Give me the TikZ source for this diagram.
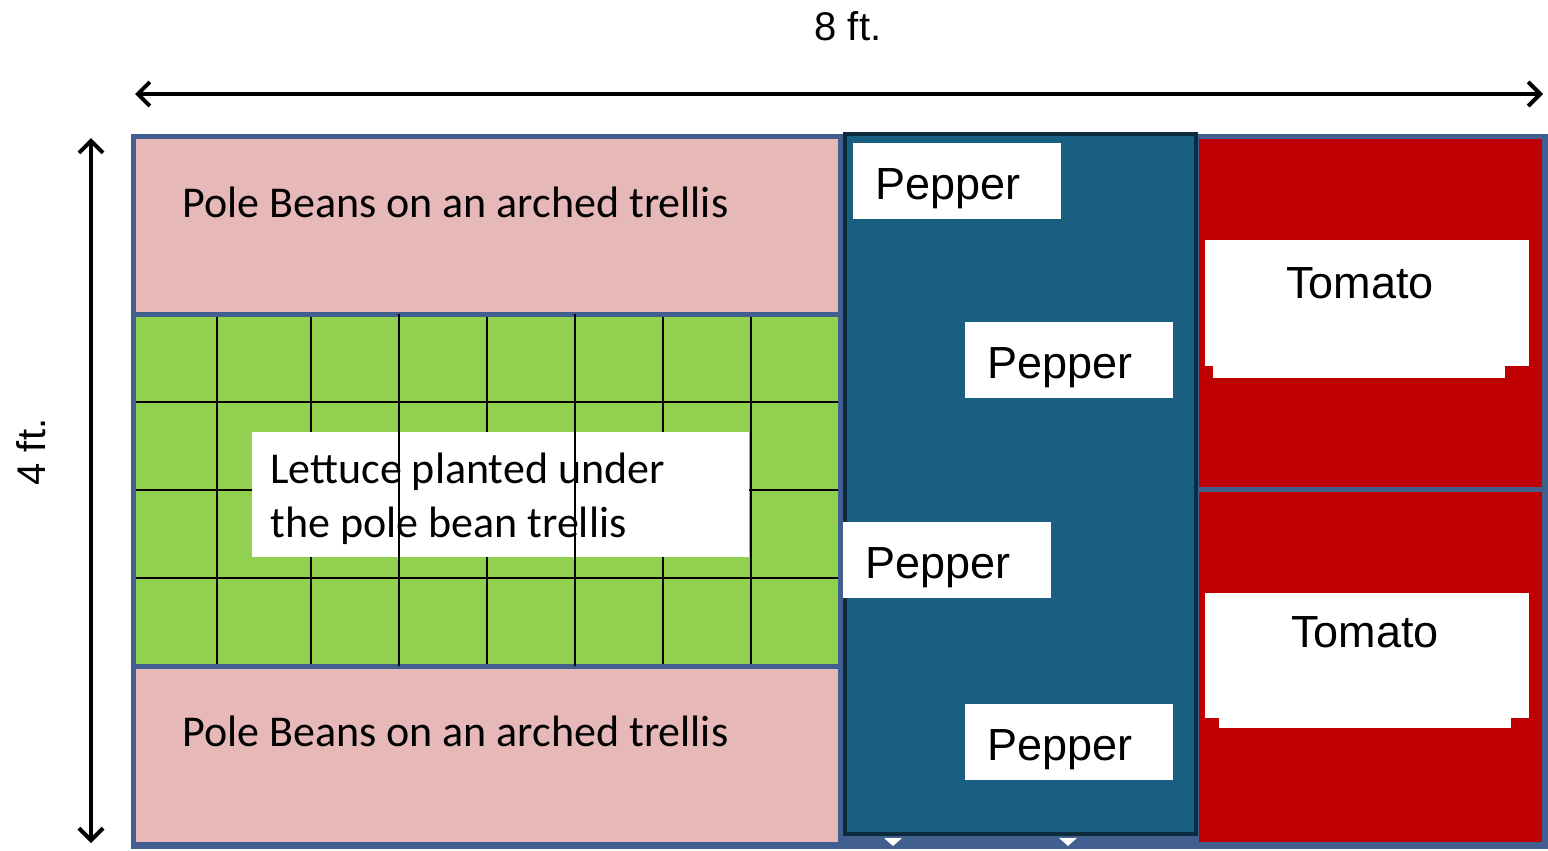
\documentclass[tikz,border=0pt]{standalone}
\usepackage{fontspec}
\setmainfont{Carlito}
\newfontfamily\plantfont{Liberation Sans}
\usetikzlibrary{arrows.meta,positioning}

\definecolor{beanpink}{HTML}{E6B9B8}
\definecolor{lettucegreen}{HTML}{92D050}
\definecolor{pepperblue}{HTML}{185F81}
\definecolor{tomatored}{HTML}{C00000}
\definecolor{framblue}{HTML}{41608F}
\definecolor{pepperedge}{HTML}{0C2B3D}

\begin{document}
\begin{tikzpicture}[x=0.5pt,y=-0.5pt,
    bedline/.style={draw=framblue, line width=2.5pt},
    gridline/.style={draw=black, line width=1.2pt},
    dimarrow/.style={{Straight Barb[length=6pt,width=12pt,line width=2pt]}-{Straight Barb[length=6pt,width=12pt,line width=2pt]}, line width=1.6pt},
    dimlabel/.style={font=\plantfont\fontsize{20}{24}\selectfont},
    beanlabel/.style={anchor=base west, inner sep=0pt, font=\fontsize{22}{26}\selectfont},
    pepperbox/.style={anchor=north west, fill=white, inner ysep=0pt, inner xsep=11pt,
                      minimum height=38pt, text width=82pt, align=left,
                      text height=20pt, text depth=2pt, font=\plantfont\fontsize{22.5}{26}\selectfont},
    tomatolabel/.style={font=\plantfont\fontsize{22.5}{26}\selectfont}]
  \useasboundingbox (0,0) rectangle (1548,851);

  % dimensions
  \coordinate (wl) at (135,94);
  \coordinate (wr) at (1543,94);
  \coordinate (ht) at (91,138);
  \coordinate (hb) at (91,843);
  \draw[dimarrow] (wl) -- (wr);
  \draw[dimarrow] (ht) -- (hb);
  \node[dimlabel] (width) at (848,26) {8 ft.};
  \node[dimlabel, rotate=90] (height) at (31,452) {4 ft.};

  % bed background
  \fill[framblue] (133,136) rectangle (1545,846);

  % bean beds and lettuce grid
  \fill[beanpink] (136,139) rectangle (838,314);
  \fill[beanpink] (136,666) rectangle (838,842);
  \fill[lettucegreen] (136,314) rectangle (838,666);
  \foreach \gx in {217,311,487,663,751}
    \draw[gridline] (\gx,314) -- (\gx,666);
  \foreach \gy in {402,490,578}
    \draw[gridline] (136,\gy) -- (838,\gy);
  \draw[bedline] (136,314) -- (838,314);
  \draw[bedline] (136,666) -- (838,666);
  \node[beanlabel] (beans1) at (182,217) {Pole Beans on an arched trellis};
  \node[beanlabel] (beans2) at (182,746) {Pole Beans on an arched trellis};

  \fill[white] (252,432) rectangle (749,557);
  \node[anchor=base west, inner sep=0pt, align=left, font=\fontsize{22}{27}\selectfont]
    (lettuce) at (270,537) {Lettuce planted under\\the pole bean trellis};
  \foreach \gx in {399,575}
    \draw[gridline] (\gx,314) -- (\gx,666);

  % tomato beds
  \fill[tomatored] (1199,139) rectangle (1542,487);
  \fill[tomatored] (1199,492) rectangle (1542,842);
  \fill[white] (1205,240) rectangle (1529,366);
  \fill[white] (1213,240) rectangle (1505,378);
  \fill[white] (1205,593) rectangle (1529,718);
  \fill[white] (1219,593) rectangle (1511,728);
  \node[tomatolabel] (tomato1) at (1360,283) {Tomato};
  \node[tomatolabel] (tomato2) at (1365,632) {Tomato};

  % outer frame
  \draw[bedline] (133,136) rectangle (1545,846);

  % pepper column
  \draw[fill=pepperblue, draw=pepperedge, line width=2pt] (845,134) rectangle (1196,834);
  \fill[white] (884,838) -- (902,838) -- (893,846) -- cycle;
  \fill[white] (1059,838) -- (1077,838) -- (1068,846) -- cycle;
  \node[pepperbox] (pepper1) at (853,143) {Pepper};
  \node[pepperbox] (pepper2) at (965,322) {Pepper};
  \node[pepperbox] (pepper3) at (843,522) {Pepper};
  \node[pepperbox] (pepper4) at (965,704) {Pepper};
\end{tikzpicture}
\end{document}
